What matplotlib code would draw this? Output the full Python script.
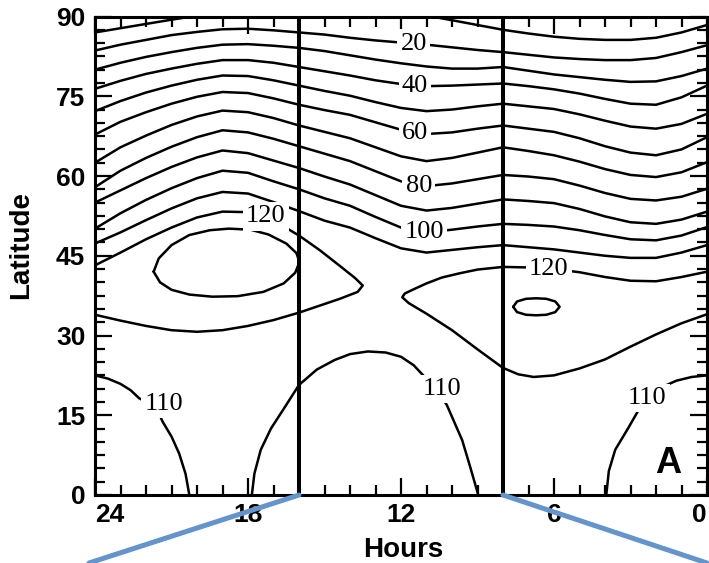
import numpy as np
import matplotlib
matplotlib.use("Agg")
import matplotlib.pyplot as plt
from matplotlib.patches import ConnectionPatch

# ---------------------------------------------------------------------------
# Contour data: latitude (deg) of each isoline as a function of local time (h)
# ---------------------------------------------------------------------------
hours = [24, 23, 22, 21, 20, 19, 18, 17, 16, 15, 14, 13, 12,
         11, 10, 9, 8, 7, 6, 5, 4, 3, 2, 1, 0]

lat_20 = [83.6, 84.7, 85.6, 86.5, 87.1, 87.6, 87.7, 87.4, 87.0, 86.6, 86.0, 85.5, 85.1,
          84.7, 84.2, 83.7, 83.3, 82.8, 82.3, 82.0, 81.8, 81.8, 82.2, 83.3, 84.6]
lat_30 = [80.0, 81.3, 82.4, 83.3, 84.1, 84.7, 84.8, 84.5, 84.1, 83.5, 82.7, 81.9, 81.2,
          80.6, 80.2, 80.2, 80.5, 79.8, 79.1, 78.6, 78.1, 77.7, 77.8, 78.8, 80.2]
lat_40 = [76.4, 77.9, 79.2, 80.2, 81.1, 81.8, 81.8, 81.3, 80.5, 79.7, 78.9, 78.0, 77.3,
          76.9, 77.0, 77.2, 77.4, 76.9, 76.3, 75.5, 74.5, 73.6, 73.4, 74.8, 77.0]
lat_50 = [72.2, 74.1, 75.7, 77.0, 78.1, 78.9, 78.8, 78.0, 77.0, 76.0, 75.1, 73.9, 72.8,
          72.2, 72.5, 73.1, 73.6, 73.1, 72.6, 71.6, 70.4, 69.3, 68.9, 69.8, 71.7]
lat_60 = [67.8, 70.2, 72.0, 73.6, 74.9, 75.8, 75.6, 74.6, 73.4, 72.4, 71.5, 70.1, 68.7,
          67.9, 68.2, 68.9, 69.5, 68.9, 68.3, 67.1, 65.6, 64.4, 63.9, 65.0, 67.3]
lat_70 = [62.5, 65.4, 67.6, 69.6, 71.2, 72.3, 72.0, 70.9, 69.5, 68.3, 67.1, 65.4, 63.7,
          62.8, 63.4, 64.4, 65.4, 64.7, 63.9, 62.7, 61.3, 60.2, 59.8, 60.7, 62.6]
lat_80 = [57.9, 61.0, 63.4, 65.5, 67.3, 68.6, 68.2, 67.0, 65.6, 64.2, 62.8, 60.9, 59.0,
          58.1, 58.6, 59.4, 60.2, 59.9, 59.4, 58.2, 56.8, 55.7, 55.4, 56.1, 57.6]
lat_90 = [55.0, 57.3, 59.6, 61.7, 63.5, 64.8, 64.3, 62.9, 61.5, 59.9, 58.4, 56.4, 54.4,
          53.5, 54.0, 54.8, 55.6, 55.3, 54.9, 53.8, 52.4, 51.3, 51.0, 51.8, 53.3]
lat_100 = [50.1, 53.0, 55.5, 57.7, 59.6, 61.0, 60.6, 59.0, 57.5, 55.8, 54.4, 52.3, 50.3,
           49.4, 49.9, 50.5, 51.0, 50.8, 50.5, 49.8, 48.9, 48.1, 47.9, 48.8, 50.4]
lat_110 = [47.3, 49.4, 51.7, 53.9, 55.8, 57.0, 56.7, 55.1, 53.4, 51.6, 50.3, 48.3, 46.4,
           45.6, 46.1, 46.6, 47.0, 46.6, 46.2, 45.6, 45.0, 44.6, 44.6, 45.6, 47.0]

# 10 isoline: leaves through the top edge in the afternoon and comes back
hours_10a = [24, 23, 22, 21, 20.2]
lat_10a = [87.0, 87.8, 88.6, 89.4, 90.0]
hours_10b = [10.8, 10, 9, 8, 7, 6, 5, 4, 3, 2, 1, 0]
lat_10b = [90.0, 89.3, 88.4, 87.5, 86.8, 86.2, 85.8, 85.6, 85.6, 86.0, 87.0, 88.4]

# 120 isoline: evening lobe and morning lobe
hours_120a = [24, 23, 22, 21, 20, 19, 18, 17.4, 16.7, 16, 15.2, 14.4, 13.8, 13.5,
              13.7, 14.4, 15.2, 16, 17, 18, 19, 20, 21, 22, 23, 24]
lat_120a = [43.2, 45.6, 48.1, 50.3, 52.2, 53.3, 53.2, 52.3, 50.8, 48.8, 46.1, 43.1, 40.8, 39.4,
            38.2, 36.9, 35.6, 34.3, 32.9, 31.8, 31.0, 30.7, 31.0, 31.8, 32.8, 33.9]
hours_120b = [0, 1, 2, 3, 4, 5, 6, 7, 8, 9, 9.7, 10.4, 11.0, 11.5, 11.85, 11.95,
              11.7, 11.0, 10.0, 9.0, 8.0, 7.4, 6.8, 6.0, 5.0, 4.0, 3.0, 2.0, 1.0, 0]
lat_120b = [42.0, 41.0, 40.2, 40.3, 41.0, 41.9, 42.5, 42.8, 42.9, 42.4, 41.7, 40.9, 39.8, 38.7,
            37.9, 37.2, 36.1, 34.1, 31.0, 27.4, 23.9, 22.7, 22.2, 22.5, 23.8, 25.5, 27.9, 30.2,
            32.3, 34.0]

# 130 closed isolines (maxima)
hours_130a = [21.7, 21.5, 21.0, 20.3, 19.5, 18.75, 17.9, 17.2, 16.5, 16.1, 15.98,
              16.15, 16.6, 17.4, 18.4, 19.4, 20.3, 21.0, 21.45, 21.7]
lat_130a = [42.0, 44.5, 47.0, 48.9, 49.8, 50.1, 49.9, 49.0, 47.3, 45.5, 43.8,
            41.8, 39.8, 38.2, 37.4, 37.3, 37.7, 38.6, 40.0, 42.0]
hours_130b = [7.6, 7.45, 7.1, 6.7, 6.3, 5.95, 5.78, 5.95, 6.3, 6.7, 7.1, 7.45, 7.6]
lat_130b = [35.4, 36.4, 36.9, 37.0, 36.9, 36.4, 35.4, 34.4, 33.9, 33.8, 33.9, 34.4, 35.4]

# 110 isolines of the low-latitude region
hours_110w = [24, 23.5, 23.0, 22.6, 22.27, 21.6, 21.35, 21.0, 20.7, 20.45, 20.3]
lat_110w = [22.5, 21.9, 20.9, 19.7, 18.2, 16.5, 13.8, 11.0, 7.8, 4.0, 0.0]
hours_110m = [17.85, 17.75, 17.5, 17.1, 16.6, 16.0, 15.3, 14.6, 14.0, 13.3, 12.6, 12.0,
              11.5, 11.07, 10.7, 10.2, 9.9, 9.6, 9.3, 8.97]
lat_110m = [0.0, 4.0, 8.5, 12.5, 16.2, 20.7, 23.6, 25.4, 26.5, 27.0, 26.8, 26.0,
            24.4, 22.2, 20.6, 16.9, 13.6, 10.3, 5.5, 0.0]
hours_110e = [0, 0.6, 1.2, 1.76, 2.35, 2.68, 3.1, 3.6, 3.85, 3.95]
lat_110e = [22.5, 22.2, 21.5, 20.3, 18.2, 16.0, 12.5, 8.5, 4.5, 0.0]

# Isoline labels
label_text = ["20", "40", "60", "80", "100", "120", "120", "110", "110", "110"]
label_hours = [11.5, 11.45, 11.45, 11.3, 11.1, 17.3, 6.2, 21.3, 10.4, 2.35]
label_lats = [84.9, 77.0, 68.0, 58.2, 49.5, 52.4, 42.6, 17.1, 20.0, 18.2]

# Local times marked by vertical lines
marker_hours = [16, 8]

x_ticks = [24, 18, 12, 6, 0]
x_tick_labels = ["24", "18", "12", "6", "0"]
y_ticks = [0, 15, 30, 45, 60, 75, 90]

# ---------------------------------------------------------------------------
fig = plt.figure(figsize=(7.09, 5.63), dpi=100)
ax = fig.add_axes([95 / 709, 68 / 563, 612 / 709, 478.5 / 563])

line_kw = dict(color="black", lw=1.8, solid_joinstyle="round", solid_capstyle="round")

for lat in [lat_20, lat_30, lat_40, lat_50, lat_60, lat_70, lat_80, lat_90, lat_100, lat_110]:
    ax.plot(hours, lat, **line_kw)

ax.plot(hours_10a, lat_10a, **line_kw)
ax.plot(hours_10b, lat_10b, **line_kw)
ax.plot(hours_120a, lat_120a, **line_kw)
ax.plot(hours_120b, lat_120b, **line_kw)
ax.plot(hours_130a, lat_130a, **line_kw)
ax.plot(hours_130b, lat_130b, **line_kw)
ax.plot(hours_110w, lat_110w, **line_kw)
ax.plot(hours_110m, lat_110m, **line_kw)
ax.plot(hours_110e, lat_110e, **line_kw)

for txt, h, la in zip(label_text, label_hours, label_lats):
    ax.text(h, la, txt, ha="center", va="center", fontsize=19,
            family="Liberation Serif", zorder=4,
            bbox=dict(boxstyle="square,pad=0.12", fc="white", ec="none"))

for h in marker_hours:
    ax.axvline(h, color="black", lw=2.9, zorder=5)

ax.text(1.52, 4.1, "A", ha="center", va="baseline", fontsize=26,
        family="Liberation Sans", fontweight="bold", zorder=6)

ax.set_xlim(24, 0)
ax.set_ylim(0, 90)

ax.set_xticks(x_ticks)
ax.set_xticklabels(x_tick_labels)
ax.set_xticks(range(0, 25), minor=True)
ax.set_yticks(y_ticks)
ax.set_yticks(np.arange(0, 90.1, 2.5), minor=True)

ax.tick_params(which="both", direction="in", top=True, right=True, width=1.6,
               labelsize=19, colors="black")
ax.tick_params(which="major", length=12)
ax.tick_params(which="minor", length=7)
ax.tick_params(axis="x", pad=6)
ax.tick_params(axis="y", pad=7)

for lab in ax.get_xticklabels() + ax.get_yticklabels():
    lab.set_fontfamily("Liberation Sans")
    lab.set_fontweight("bold")
xlabs = ax.get_xticklabels()
xlabs[0].set_horizontalalignment("left")
xlabs[-1].set_horizontalalignment("right")

for sp in ax.spines.values():
    sp.set_linewidth(2.2)
    sp.set_zorder(6)

ax.set_xlabel("Hours", fontsize=20, fontweight="bold", family="Liberation Sans", va="center")
ax.xaxis.set_label_coords(0.503, -0.115)
ax.set_ylabel("Latitude", fontsize=20, fontweight="bold", family="Liberation Sans", va="center")
ax.yaxis.set_label_coords(-0.121, 0.522)

# Connectors from the marked times down to the panel edge
for h, fx in zip(marker_hours, [89 / 709, 707 / 709]):
    con = ConnectionPatch(xyA=(h, 0), coordsA=ax.transData,
                          xyB=(fx, 0), coordsB=fig.transFigure,
                          color="#6394CC", lw=3.6, zorder=10, clip_on=False)
    fig.add_artist(con)

fig.savefig("out.png", dpi=100)
